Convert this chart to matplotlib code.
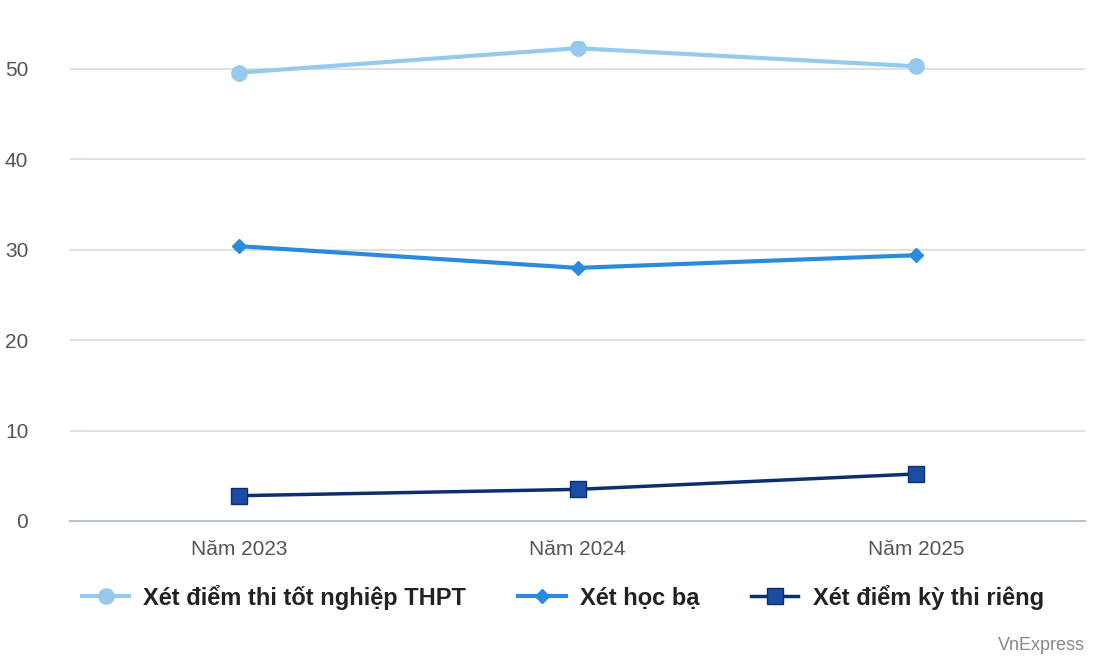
import matplotlib.pyplot as plt
import numpy as np

plt.rcParams["font.family"] = ["Liberation Sans", "DejaVu Sans"]

years = ["Năm 2023", "Năm 2024", "Năm 2025"]
thpt = [49.6, 52.3, 50.3]
hocba = [30.4, 28.0, 29.4]
rieng = [2.8, 3.5, 5.2]

fig = plt.figure(figsize=(11.06, 6.64), dpi=100)
ax = fig.add_axes([70 / 1106, 1 - 521 / 664, 1015 / 1106, 480 / 664])
x = np.arange(len(years))

ax.plot(x, thpt, color="#95c9ee", lw=3, marker="o", ms=11,
        label="Xét điểm thi tốt nghiệp THPT")
ax.plot(x, hocba, color="#2a8bdc", lw=3, marker="D", ms=7,
        label="Xét học bạ")
ax.plot(x, rieng, color="#0c2f70", lw=2.5, marker="s", ms=11,
        markerfacecolor="#1b4ea3", markeredgecolor="#0c2f70",
        label="Xét điểm kỳ thi riêng")

ax.set_xlim(-0.5, 2.5)
ax.set_ylim(0, 50 * 480 / 452)
ax.set_yticks(range(0, 51, 10))
ax.set_xticks(x)
ax.set_xticklabels(years)
ax.grid(axis="y", color="#d5dbe0", lw=1.2)
ax.set_axisbelow(True)
for s in ["top", "right", "left"]:
    ax.spines[s].set_visible(False)
ax.spines["bottom"].set_color("#b8c4cf")
ax.spines["bottom"].set_linewidth(1.5)
ax.tick_params(axis="both", length=0, labelsize=15, colors="#555555", pad=14)
ax.tick_params(axis="y", pad=30)

fig.legend(loc="lower left", bbox_to_anchor=(0.055, 0.05), ncol=3, frameon=False,
           prop={"size": 17, "weight": "bold"}, handlelength=2, columnspacing=2.2,
           handletextpad=0.6, labelcolor="#222222")
fig.text(0.981, 0.015, "VnExpress", ha="right", va="bottom", fontsize=13, color="#888888")

plt.savefig("out.png", dpi=100)
plt.close()
